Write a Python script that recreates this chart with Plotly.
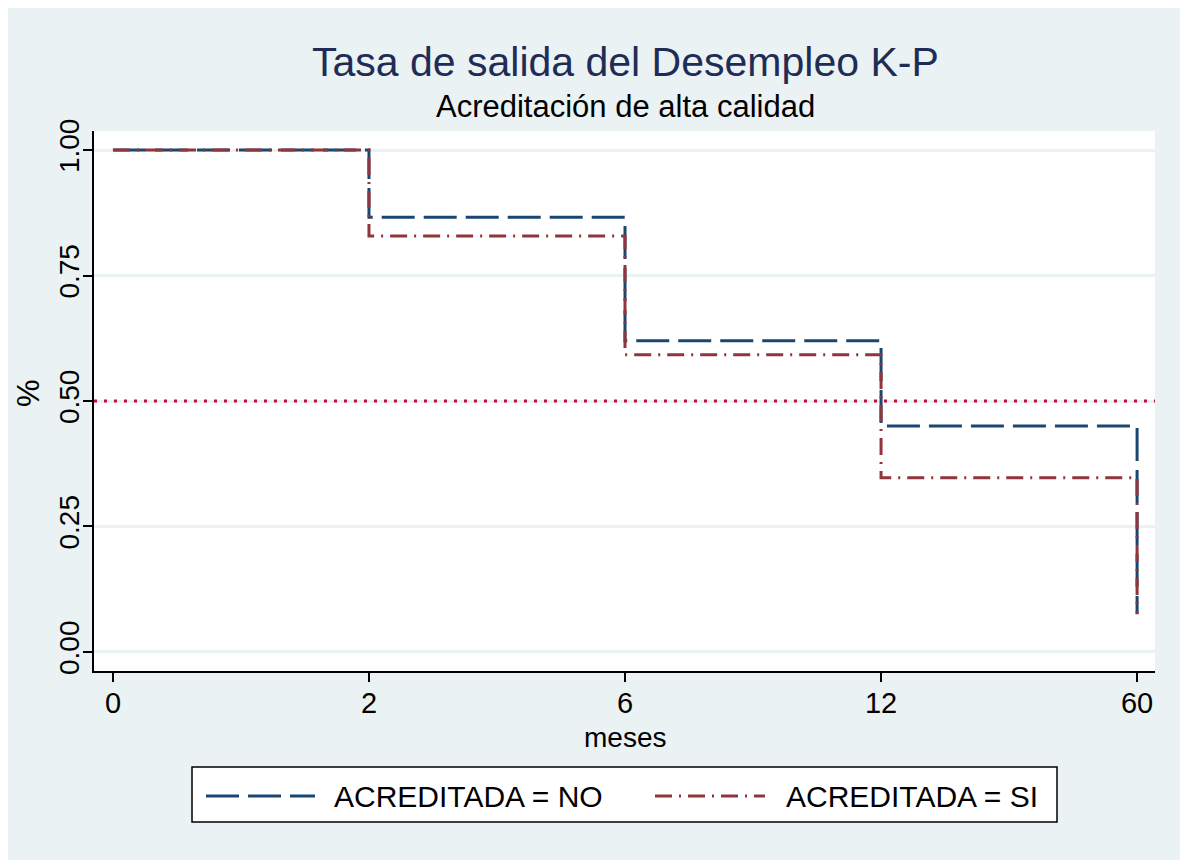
import plotly.graph_objects as go

# Data
x_labels = ["0", "2", "6", "12", "60"]
x_pos = [0, 1, 2, 3, 4]
surv_no = [1.0, 0.866, 0.62, 0.45, 0.076]
surv_si = [1.0, 0.829, 0.592, 0.347, 0.075]
y_ticks = [0.0, 0.25, 0.5, 0.75, 1.0]
y_tick_labels = ["0.00", "0.25", "0.50", "0.75", "1.00"]
median_line = 0.5
series_names = ["ACREDITADA = NO", "ACREDITADA = SI"]

BG = "#EAF2F3"
BLUE = "#1A476F"
RED = "#90353B"
FONT = "Liberation Sans, Arial, sans-serif"
DASH_NO = "33px,9px"
DASH_SI = "17px,7px,2px,7px"
LW = 3

W, H = 1180, 852
OX, OY = 8, 8  # page offset of figure in screenshot
L, R, T, B = 86, 33, 123, 189
pw, ph = W - L - R, H - T - B


def fx(rx):
    return (rx - OX - L) / pw


def fy(ry):
    return 1 - (ry - OY - T) / ph


def note(text, rx, ry, size, color="black", angle=0, xanchor="center"):
    fig.add_annotation(text=text, xref="paper", yref="paper",
                       x=fx(rx), y=fy(ry), xanchor=xanchor, yanchor="middle",
                       showarrow=False, textangle=angle,
                       font=dict(family=FONT, size=size, color=color))


fig = go.Figure()

fig.add_trace(go.Scatter(
    x=x_pos, y=surv_no, mode="lines", line_shape="hv",
    line=dict(color=BLUE, width=LW, dash=DASH_NO),
    name=series_names[0], showlegend=False))
fig.add_trace(go.Scatter(
    x=x_pos, y=surv_si, mode="lines", line_shape="hv",
    line=dict(color=RED, width=LW, dash=DASH_SI),
    name=series_names[1], showlegend=False))

fig.add_shape(type="line", xref="paper", yref="y", x0=0, x1=1,
              y0=median_line, y1=median_line,
              line=dict(color="#CC0A3A", width=3, dash="3px,7px"), layer="above")

# Titles
note("Tasa de salida del Desempleo K-P", 625, 62, 41, "#1F2D56")
note("Acreditación de alta calidad", 625, 107, 31)
note("%", 28, 393, 31, angle=-90)
note("meses", 625, 737, 28)

# Legend (drawn manually to match the reference box)
fig.add_shape(type="rect", xref="paper", yref="paper",
              x0=fx(192), x1=fx(1057), y0=fy(822), y1=fy(767),
              fillcolor="white", line=dict(color="black", width=1.5))
leg = [(206, 315, 332, BLUE, DASH_NO), (655, 765, 784, RED, DASH_SI)]
for (lx0, lx1, tx, col, dsh), name in zip(leg, series_names):
    fig.add_shape(type="line", xref="paper", yref="paper",
                  x0=fx(lx0), x1=fx(lx1), y0=fy(796), y1=fy(796),
                  line=dict(color=col, width=LW, dash=dsh))
    note(name, tx, 796, 30, xanchor="left")

fig.update_layout(
    width=W, height=H,
    margin=dict(l=L, r=R, t=T, b=B),
    paper_bgcolor=BG, plot_bgcolor="white",
    font=dict(family=FONT, color="black"),
    showlegend=False,
    xaxis=dict(
        range=[-0.074, 4.07], tickvals=x_pos, ticktext=x_labels,
        showgrid=False, zeroline=False, showline=True, linecolor="black", linewidth=2,
        ticks="outside", ticklen=9, tickcolor="black", tickwidth=2,
        tickfont=dict(size=29), ticklabelstandoff=-4),
    yaxis=dict(
        range=[-0.038, 1.038], tickvals=y_ticks, ticktext=y_tick_labels,
        tickangle=-90, showgrid=True, gridcolor=BG, gridwidth=2.5,
        zeroline=False, showline=True, linecolor="black", linewidth=2,
        ticks="outside", ticklen=9, tickcolor="black", tickwidth=2,
        tickfont=dict(size=28), ticklabelstandoff=-7),
)

fig.write_html("out.html")
